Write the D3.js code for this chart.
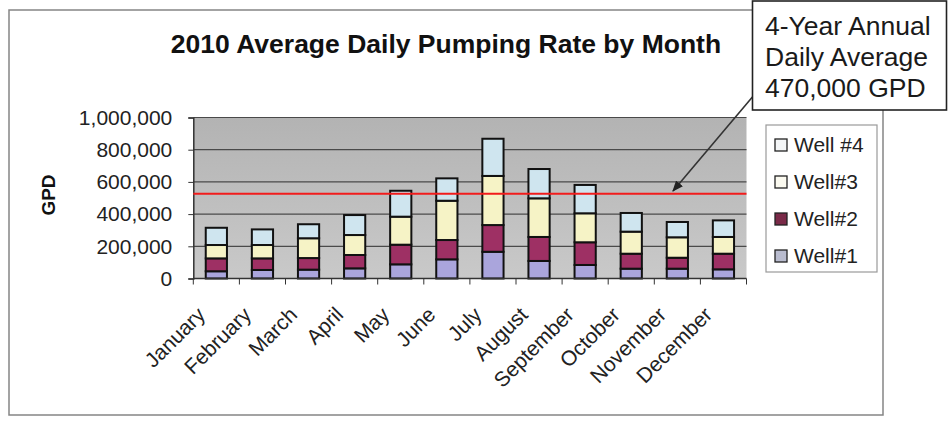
<!DOCTYPE html>
<html>
<head>
<meta charset="utf-8">
<script src="https://cdn.jsdelivr.net/npm/d3@7/dist/d3.min.js"></script>
<style>
  html, body { margin: 0; padding: 0; background: #fff; }
  svg { display: block; font-family: Arial, "Liberation Sans", sans-serif; }
</style>
</head>
<body>
<svg id="chart" width="948" height="421"></svg>
<script>
// ---- data ----
const months = ["January","February","March","April","May","June","July","August","September","October","November","December"];
const seriesNames = ["Well#1","Well#2","Well#3","Well #4"];
const well1 = [45000, 53000, 55000, 63000, 88000, 119000, 166000, 109000, 84000, 61000, 61000, 57000];
const well2 = [80000, 72000, 72000, 83000, 122000, 120000, 166000, 149000, 141000, 93000, 68000, 97000];
const well3 = [83000, 83000, 123000, 124000, 174000, 244000, 305000, 240000, 180000, 137000, 127000, 104000];
const well4 = [107000, 97000, 87000, 124000, 161000, 139000, 231000, 182000, 176000, 116000, 95000, 103000];
const yTicks = [0, 200000, 400000, 600000, 800000, 1000000];
const referenceValue = 527000;
const titleText = "2010 Average Daily Pumping Rate by Month";
const yAxisLabel = "GPD";
const noteLines = ["4-Year Annual", "Daily Average", "470,000 GPD"];

const colors = ["#aaa5dc", "#9e3064", "#f6f3c6", "#cfe5ef"];

// ---- layout ----
const svg = d3.select("#chart");
const plot = { left: 193.3, right: 746.5, top: 117.5, bottom: 278.5 };

// outer frame
svg.append("rect").attr("x", 9).attr("y", 10).attr("width", 874).attr("height", 405)
  .attr("fill", "#fff").attr("stroke", "#858585").attr("stroke-width", 1.5);

// title
svg.append("text").attr("x", 446).attr("y", 53).attr("text-anchor", "middle")
  .attr("font-size", 26.5).attr("font-weight", "bold").attr("fill", "#111").text(titleText);

const x = d3.scaleBand().domain(months).range([plot.left, plot.right])
  .paddingInner(0.54).paddingOuter(0.27);
const y = d3.scaleLinear().domain([0, 1000000]).range([plot.bottom, plot.top]);

// plot background gradient
const defs = svg.append("defs");
const grad = defs.append("linearGradient").attr("id", "bg").attr("x1", 0).attr("y1", 0).attr("x2", 0).attr("y2", 1);
grad.append("stop").attr("offset", "0%").attr("stop-color", "#b3b3b3");
grad.append("stop").attr("offset", "100%").attr("stop-color", "#c9c9c9");

svg.append("rect").attr("x", plot.left).attr("y", plot.top)
  .attr("width", plot.right - plot.left).attr("height", plot.bottom - plot.top)
  .attr("fill", "url(#bg)");

// gridlines
svg.append("g").selectAll("line").data(yTicks.filter(d => d > 0)).join("line")
  .attr("x1", plot.left).attr("x2", plot.right)
  .attr("y1", d => y(d)).attr("y2", d => y(d))
  .attr("stroke", "#4a4a4a").attr("stroke-width", 1.2);

// y axis
const yAxis = svg.append("g").attr("transform", `translate(${plot.left},0)`)
  .call(d3.axisLeft(y).tickValues(yTicks).tickFormat(d3.format(",")).tickSize(5).tickPadding(16));
yAxis.select(".domain").attr("stroke", "#333").attr("stroke-width", 1.5);
yAxis.selectAll(".tick line").attr("stroke", "#333");
yAxis.selectAll("text").attr("font-size", 21).attr("fill", "#222")
  .attr("font-family", "Arial, 'Liberation Sans', sans-serif");

// y title
svg.append("text").attr("transform", "translate(55,195) rotate(-90)")
  .attr("text-anchor", "middle").attr("font-size", 19).attr("font-weight", "bold")
  .attr("fill", "#111").text(yAxisLabel);

// stacked bars
const rows = months.map((m, i) => ({ month: m, "Well#1": well1[i], "Well#2": well2[i], "Well#3": well3[i], "Well #4": well4[i] }));
const stacked = d3.stack().keys(seriesNames)(rows);
svg.append("g").selectAll("g").data(stacked).join("g")
  .attr("fill", (d, i) => colors[i])
  .selectAll("rect").data(d => d).join("rect")
  .attr("x", d => x(d.data.month))
  .attr("width", x.bandwidth())
  .attr("y", d => y(d[1]))
  .attr("height", d => y(d[0]) - y(d[1]))
  .attr("stroke", "#111").attr("stroke-width", 2);

// red reference line
svg.append("line").attr("x1", plot.left).attr("x2", plot.right)
  .attr("y1", y(referenceValue)).attr("y2", y(referenceValue))
  .attr("stroke", "#f21b1b").attr("stroke-width", 2);

// x axis line + ticks at category boundaries
svg.append("line").attr("x1", plot.left).attr("x2", plot.right)
  .attr("y1", plot.bottom).attr("y2", plot.bottom).attr("stroke", "#333").attr("stroke-width", 1.5);
const boundaries = d3.range(months.length + 1).map(i => x.range()[0] + i * x.step());
svg.append("g").selectAll("line").data(boundaries).join("line")
  .attr("x1", d => d).attr("x2", d => d)
  .attr("y1", plot.bottom).attr("y2", plot.bottom + 6)
  .attr("stroke", "#333").attr("stroke-width", 1);

// x labels rotated
svg.append("g").selectAll("text").data(months).join("text")
  .attr("transform", d => `translate(${x(d) + x.bandwidth() / 2 - 10},316) rotate(-45)`)
  .attr("text-anchor", "end").attr("font-size", 21).attr("fill", "#222")
  .text(d => d);

// legend
const legend = svg.append("g");
legend.append("rect").attr("x", 766).attr("y", 125).attr("width", 111).attr("height", 147)
  .attr("fill", "#fff").attr("stroke", "#9a9a9a").attr("stroke-width", 1.2);
const legendOrder = [3, 2, 1, 0];
const legendSwatch = ["#f4f6f7", "#fbfaf0", "#7a2a48", "#b9bccf"];
legendOrder.forEach((si, k) => {
  const cy = 145 + k * 37;
  legend.append("rect").attr("x", 775).attr("y", cy - 6).attr("width", 12).attr("height", 12)
    .attr("fill", legendSwatch[k]).attr("stroke", "#222").attr("stroke-width", 1.3);
  legend.append("text").attr("x", 794).attr("y", cy + 7).attr("font-size", 21).attr("fill", "#222")
    .text(seriesNames[si]);
});

// arrow from note to line
defs.append("marker").attr("id", "arrow").attr("viewBox", "0 0 10 10").attr("refX", 9).attr("refY", 5)
  .attr("markerWidth", 7).attr("markerHeight", 7).attr("orient", "auto")
  .append("path").attr("d", "M0,1 L10,5 L0,9 Z").attr("fill", "#222");
svg.append("line").attr("x1", 760).attr("y1", 88).attr("x2", 673).attr("y2", 191)
  .attr("stroke", "#333").attr("stroke-width", 1.6).attr("marker-end", "url(#arrow)");

// note box
svg.append("rect").attr("x", 752.5).attr("y", 1).attr("width", 194).attr("height", 109)
  .attr("fill", "#fff").attr("stroke", "#222").attr("stroke-width", 1.6);
svg.append("g").selectAll("text").data(noteLines).join("text")
  .attr("x", 765).attr("y", (d, i) => 35 + i * 31)
  .attr("font-size", 26.5).attr("fill", "#1a1a1a").text(d => d);
</script>
</body>
</html>
